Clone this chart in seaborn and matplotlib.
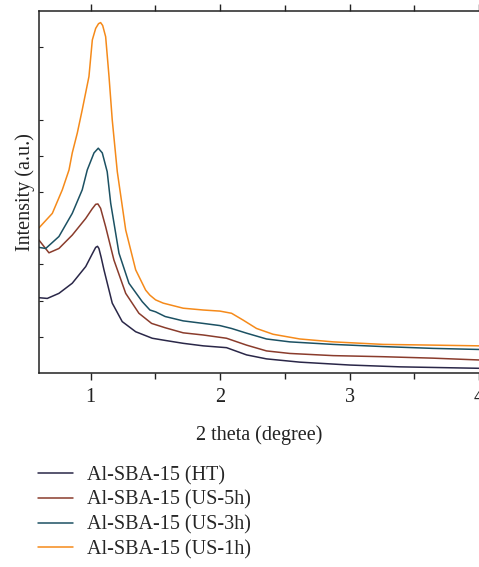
import pandas as pd
import matplotlib
matplotlib.use("Agg")
import matplotlib.pyplot as plt
from matplotlib.ticker import FixedLocator
from matplotlib.lines import Line2D
import seaborn as sns

sns.set_theme(style="white")
plt.rcParams["font.family"] = ["Liberation Serif", "DejaVu Serif"]

labels = ["Al-SBA-15 (HT)", "Al-SBA-15 (US-5h)", "Al-SBA-15 (US-3h)", "Al-SBA-15 (US-1h)"]
colors = ["#2a2748", "#8a3c2c", "#1c5163", "#f58a1a"]

x_ht = [0.600, 0.664, 0.754, 0.857, 0.961, 1.010, 1.038, 1.052, 1.063, 1.080, 1.102, 1.166, 1.243, 1.347,
        1.475, 1.575, 1.714, 1.869, 2.049, 2.204, 2.358, 2.615, 3.002, 3.388, 4.000]
y_ht = [20.8, 20.6, 22.0, 24.8, 29.4, 32.8, 34.7, 35.0, 34.4, 32.0, 28.5, 19.3, 14.2, 11.4,
        9.6, 9.0, 8.2, 7.5, 7.0, 5.0, 3.9, 3.0, 2.2, 1.7, 1.3]

x_5h = [0.600, 0.677, 0.754, 0.857, 0.961, 1.010, 1.038, 1.055, 1.076, 1.115, 1.179, 1.270, 1.372,
        1.470, 1.575, 1.714, 1.869, 2.049, 2.204, 2.358, 2.538, 2.873, 3.259, 3.645, 4.000]
y_5h = [36.7, 33.2, 34.4, 38.1, 42.7, 45.3, 46.6, 46.7, 45.5, 40.4, 31.2, 22.0, 16.5,
        13.7, 12.5, 11.1, 10.5, 9.6, 7.7, 6.1, 5.4, 4.8, 4.5, 4.1, 3.6]

x_3h = [0.600, 0.652, 0.754, 0.857, 0.934, 0.973, 1.025, 1.058, 1.089, 1.127, 1.154, 1.218, 1.295,
        1.398, 1.457, 1.501, 1.575, 1.714, 1.869, 1.998, 2.088, 2.204, 2.358, 2.538, 2.873, 3.259,
        3.645, 4.000]
y_3h = [34.7, 34.4, 37.7, 44.1, 50.6, 56.1, 60.8, 62.1, 60.8, 55.6, 46.9, 33.1, 24.8,
        19.7, 17.4, 16.9, 15.6, 14.4, 13.7, 13.1, 12.3, 11.0, 9.4, 8.6, 7.9, 7.3,
        6.8, 6.5]

x_1h = [0.600, 0.703, 0.780, 0.832, 0.857, 0.896, 0.934, 0.986, 1.012, 1.038, 1.060, 1.076, 1.092,
        1.115, 1.141, 1.166, 1.205, 1.270, 1.347, 1.424, 1.457, 1.501, 1.560, 1.714, 1.869, 1.998,
        2.088, 2.178, 2.281, 2.409, 2.615, 2.873, 3.259, 3.645, 4.000]
y_1h = [40.1, 44.1, 50.6, 56.1, 60.8, 66.3, 72.7, 81.9, 92.0, 95.2, 96.5, 96.8, 96.0,
        92.9, 81.9, 69.9, 55.6, 39.5, 28.5, 22.9, 21.5, 20.2, 19.3, 17.9, 17.4, 17.1,
        16.5, 14.6, 12.3, 10.7, 9.4, 8.6, 7.9, 7.7, 7.5]

series_x = [x_ht, x_5h, x_3h, x_1h]
series_y = [y_ht, y_5h, y_3h, y_1h]

frames = []
for lab, xs, ys in zip(labels, series_x, series_y):
    frames.append(pd.DataFrame({"two_theta": xs, "intensity": ys, "sample": lab}))
df = pd.concat(frames, ignore_index=True)

fig = plt.figure(figsize=(4.79, 5.67), dpi=100)
ax = fig.add_axes([39 / 479, 1 - 373 / 567, 1 - 39 / 479, 362 / 567])

sns.lineplot(data=df, x="two_theta", y="intensity", hue="sample", hue_order=labels,
             palette=dict(zip(labels, colors)), sort=False, linewidth=1.1,
             estimator=None, ax=ax, legend=False)

ax.set_xlim(0.6, 4.0)
ax.set_ylim(0, 100)
ax.set_xticks([1, 2, 3, 4])
ax.set_xticklabels(["1", "2", "3", "4"])
ax.xaxis.set_minor_locator(FixedLocator([1.5, 2.5, 3.5]))
ax.set_yticks([10, 20, 30, 50, 60, 70, 90])
ax.set_yticklabels([])

for side in ["left", "bottom", "top"]:
    ax.spines[side].set_visible(True)
    ax.spines[side].set_color("#222222")
    ax.spines[side].set_linewidth(1.1)
ax.spines["right"].set_visible(False)

ax.tick_params(axis="x", which="major", direction="out", length=5, width=1.0,
               colors="#222222", labelsize=14.5, pad=6, top=True, labeltop=False, bottom=True)
ax.tick_params(axis="x", which="minor", direction="out", length=4, width=1.0,
               colors="#222222", top=True, bottom=True)
ax.tick_params(axis="y", which="major", direction="in", length=3, width=0.8,
               colors="#222222", left=True, labelleft=False)

ax.set_xlabel("2 theta (degree)", fontsize=14.5, color="#222222", labelpad=13)
ax.set_ylabel("Intensity (a.u.)", fontsize=14.5, color="#222222", labelpad=3)

handles = [Line2D([0], [0], color=c, lw=1.1) for c in colors]
fig.legend(handles, labels, loc="upper left", bbox_to_anchor=(38 / 479, 1 - 466 / 567),
           frameon=False, fontsize=14.5, handlelength=1.75, handletextpad=0.7,
           labelspacing=0.27, borderaxespad=0, borderpad=0)

fig.savefig("out.png", dpi=100)
